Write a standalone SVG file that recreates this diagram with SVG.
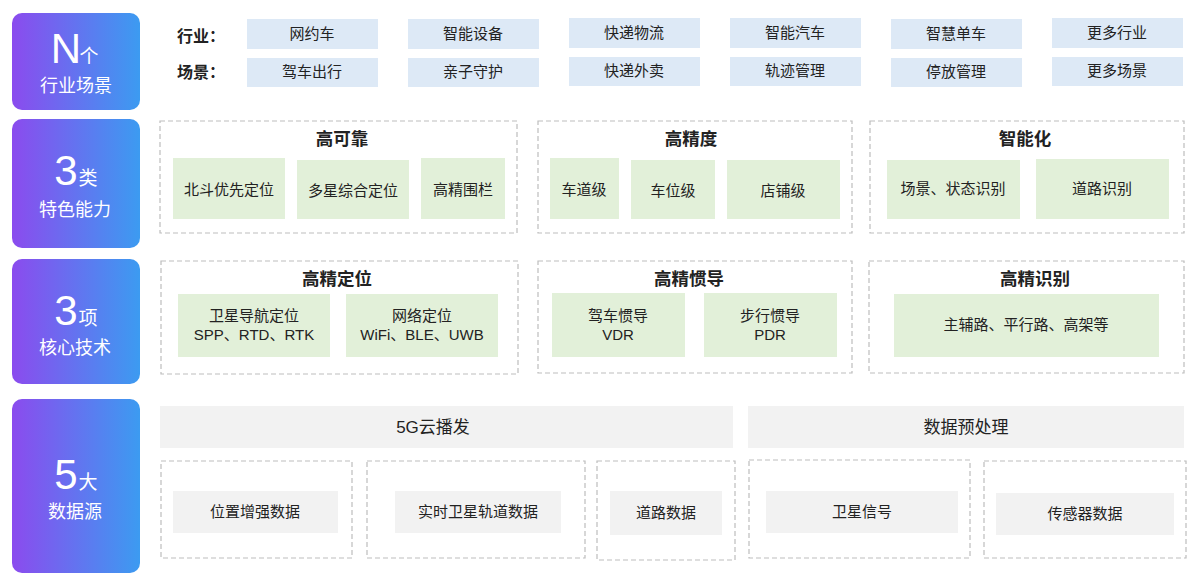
<svg xmlns="http://www.w3.org/2000/svg" width="1200" height="575" viewBox="0 0 1200 575">
<defs>
<linearGradient id="g" x1="0" y1="0" x2="1" y2="0">
<stop offset="0" stop-color="#8B4BEE"/>
<stop offset="1" stop-color="#3C9BF1"/>
</linearGradient>
<style>
text{font-family:"Liberation Sans","Noto Sans CJK SC",sans-serif;fill:#222;text-anchor:middle}
.side{fill:url(#g)}
.big{fill:#fff;font-size:42px}
.unit{fill:#fff;font-size:19px}
.sl{fill:#fff;font-size:18px}
.blue{fill:#DDE9F6}
.green{fill:#E2F0D9}
.gray{fill:#F2F2F2}
.dash{fill:none;stroke:#BDBDBD;stroke-width:1.2;stroke-dasharray:5 3}
.lbl{font-size:15px}
.ttl{font-size:17.5px;font-weight:bold}
.hd{font-size:16px;font-weight:bold;text-anchor:start}
.bar{font-size:17px}
</style>
</defs>
<rect width="1200" height="575" fill="#fff"/>

<g id="side-n">
<rect class="side" x="12" y="13" width="128" height="97" rx="10"/>
<text x="66" y="63" class="big">N</text><text x="89" y="63" class="unit">个</text>
<text x="76" y="92" class="sl">行业场景</text>
</g>
<g id="side-3a">
<rect class="side" x="12" y="119" width="128" height="129" rx="10"/>
<text x="66" y="185" class="big">3</text><text x="88" y="185" class="unit">类</text>
<text x="75" y="216" class="sl">特色能力</text>
</g>
<g id="side-3b">
<rect class="side" x="12" y="259" width="128" height="125" rx="10"/>
<text x="66" y="325" class="big">3</text><text x="88" y="325" class="unit">项</text>
<text x="75" y="354" class="sl">核心技术</text>
</g>
<g id="side-5">
<rect class="side" x="12" y="399" width="128" height="174" rx="10"/>
<text x="66" y="489" class="big">5</text><text x="88" y="489" class="unit">大</text>
<text x="75" y="518" class="sl">数据源</text>
</g>

<g id="row-industry">
<text x="177" y="42" class="hd">行业：</text>
<text x="177" y="78" class="hd">场景：</text>
<rect class="blue" x="247" y="19" width="131" height="30"/><text x="312" y="39" class="lbl">网约车</text>
<rect class="blue" x="408" y="19" width="131" height="30"/><text x="473" y="39" class="lbl">智能设备</text>
<rect class="blue" x="569" y="18" width="131" height="30"/><text x="634" y="38" class="lbl">快递物流</text>
<rect class="blue" x="730" y="18" width="131" height="30"/><text x="795" y="38" class="lbl">智能汽车</text>
<rect class="blue" x="891" y="19" width="131" height="30"/><text x="956" y="39" class="lbl">智慧单车</text>
<rect class="blue" x="1052" y="18" width="131" height="30"/><text x="1117" y="38" class="lbl">更多行业</text>
<rect class="blue" x="247" y="58" width="131" height="29"/><text x="312" y="77" class="lbl">驾车出行</text>
<rect class="blue" x="408" y="58" width="131" height="29"/><text x="473" y="77" class="lbl">亲子守护</text>
<rect class="blue" x="569" y="57" width="131" height="29"/><text x="634" y="76" class="lbl">快递外卖</text>
<rect class="blue" x="730" y="57" width="131" height="29"/><text x="795" y="76" class="lbl">轨迹管理</text>
<rect class="blue" x="891" y="58" width="131" height="29"/><text x="956" y="77" class="lbl">停放管理</text>
<rect class="blue" x="1052" y="57" width="131" height="29"/><text x="1117" y="76" class="lbl">更多场景</text>
</g>

<g id="feat-reliable">
<rect class="dash" x="160" y="121" width="357" height="112"/>
<text x="342" y="145" class="ttl">高可靠</text>
<rect class="green" x="173" y="158" width="112" height="61"/><text x="229" y="195" class="lbl">北斗优先定位</text>
<rect class="green" x="297" y="160" width="112" height="59"/><text x="353" y="196" class="lbl">多星综合定位</text>
<rect class="green" x="421" y="158" width="84" height="61"/><text x="463" y="195" class="lbl">高精围栏</text>
</g>
<g id="feat-precision">
<rect class="dash" x="538" y="121" width="314" height="112"/>
<text x="691" y="145" class="ttl">高精度</text>
<rect class="green" x="550" y="158" width="69" height="61"/><text x="584" y="195" class="lbl">车道级</text>
<rect class="green" x="631" y="160" width="84" height="59"/><text x="673" y="196" class="lbl">车位级</text>
<rect class="green" x="727" y="160" width="113" height="59"/><text x="783" y="196" class="lbl">店铺级</text>
</g>
<g id="feat-smart">
<rect class="dash" x="870" y="121" width="314" height="112"/>
<text x="1025" y="145" class="ttl">智能化</text>
<rect class="green" x="887" y="160" width="133" height="59"/><text x="953" y="194" class="lbl">场景、状态识别</text>
<rect class="green" x="1036" y="159" width="133" height="60"/><text x="1102" y="194" class="lbl">道路识别</text>
</g>

<g id="tech-position">
<rect class="dash" x="161" y="261" width="357" height="113"/>
<text x="337" y="285" class="ttl">高精定位</text>
<rect class="green" x="178" y="294" width="152" height="63"/>
<text x="254" y="321" class="lbl">卫星导航定位</text><text x="254" y="340" class="lbl">SPP、RTD、RTK</text>
<rect class="green" x="346" y="294" width="152" height="63"/>
<text x="422" y="321" class="lbl">网络定位</text><text x="422" y="340" class="lbl">WiFi、BLE、UWB</text>
</g>
<g id="tech-inertial">
<rect class="dash" x="538" y="261" width="314" height="112"/>
<text x="689" y="285" class="ttl">高精惯导</text>
<rect class="green" x="552" y="293" width="133" height="64"/>
<text x="618" y="321" class="lbl">驾车惯导</text><text x="618" y="340" class="lbl">VDR</text>
<rect class="green" x="704" y="293" width="133" height="64"/>
<text x="770" y="321" class="lbl">步行惯导</text><text x="770" y="340" class="lbl">PDR</text>
</g>
<g id="tech-recog">
<rect class="dash" x="869" y="261" width="315" height="112"/>
<text x="1035" y="285" class="ttl">高精识别</text>
<rect class="green" x="894" y="294" width="265" height="63"/>
<text x="1026" y="330" class="lbl">主辅路、平行路、高架等</text>
</g>

<g id="data-5g">
<rect class="gray" x="160" y="406" width="573" height="42"/>
<text x="433" y="433" class="bar">5G云播发</text>
</g>
<g id="data-pre">
<rect class="gray" x="748" y="406" width="436" height="42"/>
<text x="966" y="433" class="bar">数据预处理</text>
</g>
<g id="data-enh">
<rect class="dash" x="161" y="461" width="191" height="97"/>
<rect class="gray" x="173" y="491" width="165" height="42"/>
<text x="255" y="517" class="lbl">位置增强数据</text>
</g>
<g id="data-orbit">
<rect class="dash" x="367" y="461" width="218" height="97"/>
<rect class="gray" x="395" y="491" width="166" height="42"/>
<text x="478" y="517" class="lbl">实时卫星轨道数据</text>
</g>
<g id="data-road">
<rect class="dash" x="597" y="461" width="138" height="99"/>
<rect class="gray" x="610" y="491" width="112" height="44"/>
<text x="666" y="518" class="lbl">道路数据</text>
</g>
<g id="data-sat">
<rect class="dash" x="749" y="460" width="221" height="98"/>
<rect class="gray" x="766" y="491" width="192" height="42"/>
<text x="862" y="517" class="lbl">卫星信号</text>
</g>
<g id="data-sensor">
<rect class="dash" x="984" y="461" width="202" height="97"/>
<rect class="gray" x="996" y="493" width="178" height="42"/>
<text x="1085" y="519" class="lbl">传感器数据</text>
</g>
<g id="connectors"></g>
</svg>
